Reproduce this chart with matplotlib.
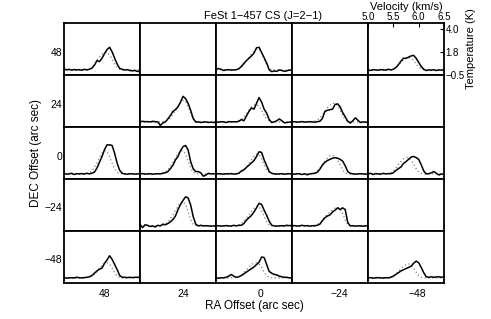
import numpy as np
import matplotlib.pyplot as plt

plt.rcParams['font.family'] = ['Liberation Sans', 'DejaVu Sans']

# map grid offsets (arc sec)
RA_OFFSETS = [48, 24, 0, -24, -48]
DEC_OFFSETS = [48, 24, 0, -24, -48]
OFFSET_LABELS = ['48', '24', '0', '\u221224', '\u221248']

# velocity channels (km/s)
V_START = 5.0
V_STEP = 0.05
N_CHAN = 31
velocity = V_START + V_STEP * np.arange(N_CHAN)

# CS (J=2-1) spectra, solid lines, T in K  (cs_r<RA>_d<DEC>, m = minus)
cs_r48_d48 = [0.11, 0.00, 0.06, -0.02, 0.03, 0.00, 0.02, -0.03, 0.06, 0.00, 0.06, 0.17, 0.46, 0.91, 0.82, 1.14,
              1.60, 2.00, 2.22, 1.77, 1.14, 0.57, 0.14, 0.06, -0.02, 0.03, -0.06, -0.09, -0.06, -0.14, -0.17]
cs_r0_d48 = [0.00, 0.14, 0.06, -0.06, 0.00, 0.03, -0.02, 0.00, 0.02, 0.11, 0.34, 0.63, 0.91, 1.14, 1.37, 1.65,
             2.17, 2.22, 1.71, 1.20, 0.68, 0.00, -0.17, -0.11, -0.14, 0.00, -0.06, -0.14, -0.09, 0.00, -0.06]
cs_rm48_d48 = [0.00, -0.06, 0.02, 0.00, -0.03, 0.03, 0.00, -0.02, 0.06, 0.00, 0.06, 0.23, 0.51, 0.86, 1.14, 1.14,
               1.25, 1.37, 1.43, 1.14, 0.74, 0.34, 0.06, -0.06, 0.00, -0.03, 0.02, -0.06, 0.00, -0.02, 0.00]
cs_r24_d24 = [0.00, 0.06, 0.02, 0.03, 0.00, 0.06, 0.02, 0.00, -0.34, -0.11, 0.00, 0.29, 0.63, 1.03, 1.20, 1.48,
              1.94, 2.51, 2.28, 1.82, 1.14, 0.34, -0.02, 0.00, -0.06, -0.02, 0.00, -0.06, -0.02, -0.06, 0.00]
cs_r0_d24 = [0.00, -0.03, 0.02, 0.00, -0.06, 0.03, 0.00, 0.02, 0.00, 0.06, 0.23, 0.11, 0.57, 1.03, 1.37, 1.25,
             1.82, 2.39, 1.94, 1.25, 0.86, 0.23, -0.06, 0.00, 0.11, 0.29, 0.11, -0.09, -0.06, -0.02, 0.00]
cs_rm24_d24 = [0.00, 0.02, -0.03, 0.00, 0.03, -0.02, 0.00, 0.02, 0.00, -0.03, 0.02, 0.06, 0.34, 1.03, 1.14, 1.20,
               1.25, 1.71, 1.77, 1.48, 0.91, 0.51, 0.06, -0.11, 0.11, 0.40, 0.17, -0.06, 0.00, -0.03, 0.00]
cs_r48_d0 = [0.06, -0.03, 0.00, 0.06, -0.06, 0.02, 0.00, 0.03, -0.02, 0.06, 0.00, 0.06, 0.17, 0.57, 1.14, 1.71,
             2.39, 2.85, 2.85, 2.79, 2.00, 1.03, 0.34, 0.06, 0.00, -0.03, 0.02, 0.00, -0.02, 0.00, 0.00]
cs_r24_d0 = [0.00, 0.03, -0.02, 0.00, 0.02, -0.03, 0.00, 0.02, 0.00, 0.06, 0.11, 0.23, 0.51, 0.86, 1.37, 1.71,
             2.28, 2.68, 2.79, 2.34, 1.20, 0.51, 0.23, 0.23, 0.11, -0.23, -0.11, 0.06, 0.00, 0.02, 0.00]
cs_r0_d0 = [0.00, 0.02, 0.00, -0.03, 0.02, 0.00, 0.03, -0.02, 0.00, 0.06, 0.29, 0.40, 0.63, 0.86, 1.08, 1.31,
            1.71, 2.17, 2.11, 1.37, 0.80, 0.23, 0.06, 0.00, -0.02, 0.00, 0.02, -0.03, 0.00, 0.02, 0.00]
cs_rm24_d0 = [0.00, -0.03, 0.02, 0.00, -0.06, 0.02, -0.09, 0.00, 0.03, 0.06, 0.17, 0.46, 0.86, 1.14, 1.31, 1.43,
              1.54, 1.60, 1.54, 1.43, 1.25, 0.80, 0.23, 0.06, 0.00, -0.02, 0.00, 0.02, 0.00, -0.02, 0.00]
cs_rm48_d0 = [0.00, 0.06, -0.06, 0.03, 0.00, -0.03, 0.06, 0.00, 0.03, 0.02, 0.11, 0.34, 0.51, 0.68, 1.03, 1.20,
              1.43, 1.65, 1.71, 1.60, 1.43, 0.91, 0.29, 0.00, 0.02, 0.11, 0.23, 0.06, -0.11, 0.00, -0.06]
cs_r24_dm24 = [0.17, -0.17, 0.11, 0.06, -0.06, 0.00, -0.11, 0.06, 0.00, 0.17, 0.11, 0.23, 0.40, 0.63, 0.97, 1.60,
               2.11, 2.51, 2.85, 2.74, 2.05, 0.91, 0.17, 0.00, 0.06, 0.00, 0.02, 0.00, -0.02, 0.00, 0.00]
cs_r0_dm24 = [0.00, 0.02, -0.02, 0.00, 0.03, 0.00, -0.02, 0.06, 0.00, 0.06, 0.06, 0.23, 0.57, 0.80, 1.03, 1.37,
              1.77, 2.22, 2.11, 1.54, 1.03, 0.46, 0.06, 0.00, -0.02, 0.00, 0.02, 0.00, 0.06, 0.02, 0.06]
cs_rm24_dm24 = [0.00, 0.03, -0.02, 0.00, 0.06, 0.00, 0.03, -0.03, 0.02, 0.00, 0.06, 0.17, 0.51, 0.80, 0.97, 1.08,
                1.37, 1.54, 1.77, 1.60, 1.77, 1.60, 0.34, 0.00, 0.02, -0.02, 0.00, 0.00, -0.02, 0.00, 0.00]
cs_r48_dm48 = [0.06, -0.03, 0.00, 0.02, 0.00, 0.06, 0.02, 0.00, 0.03, 0.06, 0.11, 0.23, 0.46, 0.68, 0.86, 0.97,
               1.43, 1.77, 2.17, 1.82, 1.31, 0.80, 0.23, 0.06, 0.06, 0.03, 0.06, 0.03, 0.06, 0.06, 0.06]
cs_r0_dm48 = [0.00, -0.03, 0.02, 0.00, 0.06, 0.17, 0.34, 0.17, 0.06, 0.11, 0.23, 0.40, 0.57, 0.74, 0.91, 1.08,
              1.31, 1.54, 2.05, 2.00, 1.31, 0.63, 0.46, 0.34, 0.29, 0.17, 0.11, 0.06, 0.06, 0.00, 0.02]
cs_rm48_dm48 = [0.00, 0.03, -0.02, 0.00, 0.03, 0.00, -0.02, 0.02, 0.00, 0.06, 0.17, 0.34, 0.51, 0.68, 0.80, 0.91,
                1.03, 1.14, 1.43, 1.65, 1.48, 1.03, 0.51, 0.11, 0.06, 0.11, 0.06, 0.09, 0.11, 0.06, 0.11]

# reference profiles, dotted lines
ref_r48_d48 = [0, 0, 0, 0, 0, 0, 0, 0, 0, 0.02, 0.09, 0.23, 0.51, 0.91, 1.25, 1.54,
               1.71, 1.71, 1.48, 1.03, 0.57, 0.23, 0.07, 0.01, 0, 0, 0, 0, 0, 0, 0]
ref_r0_d48 = [0, 0, 0, 0, 0, 0, 0, 0, 0.02, 0.09, 0.25, 0.51, 0.86, 1.20, 1.54, 1.82,
              2.05, 2.00, 1.60, 1.03, 0.51, 0.17, 0.03, 0, 0, 0, 0, 0, 0, 0, 0]
ref_rm48_d48 = [0, 0, 0, 0, 0, 0, 0, 0, 0, 0.02, 0.09, 0.23, 0.46, 0.74, 0.97, 1.14,
                1.20, 1.14, 0.91, 0.57, 0.29, 0.09, 0.02, 0, 0, 0, 0, 0, 0, 0, 0]
ref_r24_d24 = [0, 0, 0, 0, 0, 0, 0, 0, 0, 0.02, 0.06, 0.17, 0.40, 0.74, 1.14, 1.54,
               1.88, 2.11, 2.00, 1.48, 0.80, 0.29, 0.06, 0, 0, 0, 0, 0, 0, 0, 0]
ref_r0_d24 = [0, 0, 0, 0, 0, 0, 0, 0, 0.02, 0.09, 0.23, 0.46, 0.80, 1.14, 1.48, 1.65,
              1.71, 1.54, 1.14, 0.68, 0.29, 0.09, 0.02, 0, 0, 0, 0, 0, 0, 0, 0]
ref_rm24_d24 = [0, 0, 0, 0, 0, 0, 0, 0, 0.02, 0.07, 0.17, 0.40, 0.68, 1.03, 1.37, 1.65,
                1.82, 1.82, 1.60, 1.14, 0.63, 0.23, 0.06, 0, 0, 0, 0, 0, 0, 0, 0]
ref_r48_d0 = [0, 0, 0, 0, 0, 0, 0, 0, 0, 0.03, 0.11, 0.29, 0.63, 1.08, 1.60, 2.05,
              2.28, 2.17, 1.71, 1.03, 0.46, 0.14, 0.03, 0, 0, 0, 0, 0, 0, 0, 0]
ref_r24_d0 = [0, 0, 0, 0, 0, 0, 0, 0, 0.02, 0.07, 0.17, 0.40, 0.74, 1.14, 1.60, 2.00,
              2.22, 2.28, 1.94, 1.25, 0.57, 0.17, 0.05, 0, 0, 0, 0, 0, 0, 0, 0]
ref_r0_d0 = [0, 0, 0, 0, 0, 0, 0, 0, 0.02, 0.07, 0.17, 0.40, 0.68, 1.03, 1.37, 1.71,
             1.94, 1.88, 1.48, 0.91, 0.40, 0.11, 0.02, 0, 0, 0, 0, 0, 0, 0, 0]
ref_rm24_d0 = [0, 0, 0, 0, 0, 0, 0, 0, 0.03, 0.11, 0.29, 0.57, 0.91, 1.25, 1.54, 1.77,
               1.82, 1.71, 1.37, 0.86, 0.40, 0.11, 0.02, 0, 0, 0, 0, 0, 0, 0, 0]
ref_rm48_d0 = [0, 0, 0, 0, 0, 0, 0, 0, 0.03, 0.11, 0.29, 0.57, 0.91, 1.20, 1.48, 1.60,
               1.60, 1.37, 0.97, 0.51, 0.17, 0.05, 0, 0, 0, 0, 0, 0, 0, 0, 0]
ref_r24_dm24 = [0, 0, 0, 0, 0, 0, 0, 0, 0.02, 0.07, 0.17, 0.40, 0.68, 1.08, 1.54, 1.94,
                2.28, 2.39, 2.11, 1.37, 0.63, 0.17, 0.03, 0, 0, 0, 0, 0, 0, 0, 0]
ref_r0_dm24 = [0, 0, 0, 0, 0, 0, 0, 0, 0.03, 0.09, 0.23, 0.46, 0.74, 1.08, 1.43, 1.71,
               1.94, 1.88, 1.48, 0.91, 0.40, 0.11, 0.02, 0, 0, 0, 0, 0, 0, 0, 0]
ref_rm24_dm24 = [0, 0, 0, 0, 0, 0, 0, 0, 0.02, 0.06, 0.14, 0.32, 0.57, 0.86, 1.14, 1.37,
                 1.60, 1.77, 1.82, 1.71, 1.25, 0.57, 0.11, 0.02, 0, 0, 0, 0, 0, 0, 0]
ref_r48_dm48 = [0, 0, 0, 0, 0, 0, 0, 0, 0, 0.02, 0.07, 0.17, 0.34, 0.63, 0.97, 1.25,
                1.43, 1.48, 1.37, 0.97, 0.51, 0.17, 0.05, 0, 0, 0, 0, 0, 0, 0, 0]
ref_r0_dm48 = [0, 0, 0, 0, 0, 0, 0, 0, 0.06, 0.14, 0.29, 0.51, 0.80, 1.08, 1.31, 1.43,
               1.48, 1.37, 1.03, 0.57, 0.23, 0.06, 0, 0, 0, 0, 0, 0, 0, 0, 0]
ref_rm48_dm48 = [0, 0, 0, 0, 0, 0, 0, 0, 0.03, 0.09, 0.21, 0.40, 0.63, 0.91, 1.14, 1.31,
                 1.37, 1.25, 0.97, 0.57, 0.23, 0.06, 0, 0, 0, 0, 0, 0, 0, 0, 0]

spectra = {
    (48, 48): (cs_r48_d48, ref_r48_d48),
    (0, 48): (cs_r0_d48, ref_r0_d48),
    (-48, 48): (cs_rm48_d48, ref_rm48_d48),
    (24, 24): (cs_r24_d24, ref_r24_d24),
    (0, 24): (cs_r0_d24, ref_r0_d24),
    (-24, 24): (cs_rm24_d24, ref_rm24_d24),
    (48, 0): (cs_r48_d0, ref_r48_d0),
    (24, 0): (cs_r24_d0, ref_r24_d0),
    (0, 0): (cs_r0_d0, ref_r0_d0),
    (-24, 0): (cs_rm24_d0, ref_rm24_d0),
    (-48, 0): (cs_rm48_d0, ref_rm48_d0),
    (24, -24): (cs_r24_dm24, ref_r24_dm24),
    (0, -24): (cs_r0_dm24, ref_r0_dm24),
    (-24, -24): (cs_rm24_dm24, ref_rm24_dm24),
    (48, -48): (cs_r48_dm48, ref_r48_dm48),
    (0, -48): (cs_r0_dm48, ref_r0_dm48),
    (-48, -48): (cs_rm48_dm48, ref_rm48_dm48),
}

fig = plt.figure(figsize=(4.91, 3.19), dpi=100)

# grid box in figure fractions
left, right = 64 / 491, 444 / 491
bottom, top = 36 / 319, 296 / 319
pw = (right - left) / 5
ph = (top - bottom) / 5

# outer axes only carries the offset labels
outer = fig.add_axes([left, bottom, right - left, top - bottom])
outer.set_xlim(60.6, -56.3)
outer.set_ylim(-59, 61.5)
outer.set_xticks(RA_OFFSETS, OFFSET_LABELS)
outer.set_yticks(DEC_OFFSETS, OFFSET_LABELS)
outer.tick_params(axis='x', length=0, labelsize=7.5, pad=4)
outer.tick_params(axis='y', length=0, labelsize=7.5, pad=1.5)
for s in outer.spines.values():
    s.set_visible(False)
outer.patch.set_visible(False)
outer.set_xlabel('RA Offset (arc sec)', fontsize=8.5, labelpad=1)
outer.set_ylabel('DEC Offset (arc sec)', fontsize=8.5, labelpad=2)

for r, dec in enumerate(DEC_OFFSETS):
    for c, ra in enumerate(RA_OFFSETS):
        ax = fig.add_axes([left + c * pw, top - (r + 1) * ph, pw, ph])
        ax.set_xlim(5.0, 6.5)
        ax.set_ylim(-0.5, 4.6)
        ax.set_xticks([])
        ax.set_yticks([])
        for s in ax.spines.values():
            s.set_linewidth(1.3)
        if (ra, dec) in spectra:
            obs, ref = spectra[(ra, dec)]
            ax.plot(velocity, ref, color='0.5', lw=0.9, linestyle=(0, (1, 2)))
            ax.plot(velocity, obs, color='black', lw=1.1)
        if r == 0 and c == 4:
            # scale axes on the corner panel
            ax.set_xticks([5.0, 5.5, 6.0, 6.5])
            ax.set_yticks([-0.5, 1.8, 4.0])
            ax.tick_params(top=True, labeltop=True, bottom=False, labelbottom=False,
                           right=True, labelright=True, left=False, labelleft=False,
                           direction='in', length=3, labelsize=7, pad=1)
            ax.xaxis.set_label_position('top')
            ax.yaxis.set_label_position('right')
            ax.set_xlabel('Velocity (km/s)', fontsize=8, labelpad=1)
            ax.set_ylabel('Temperature (K)', fontsize=8, labelpad=1)

fig.text(0.536, 0.95, 'FeSt 1\u2212457 CS (J=2\u22121)', fontsize=8, ha='center', va='center')

fig.savefig('out.png', dpi=100)
